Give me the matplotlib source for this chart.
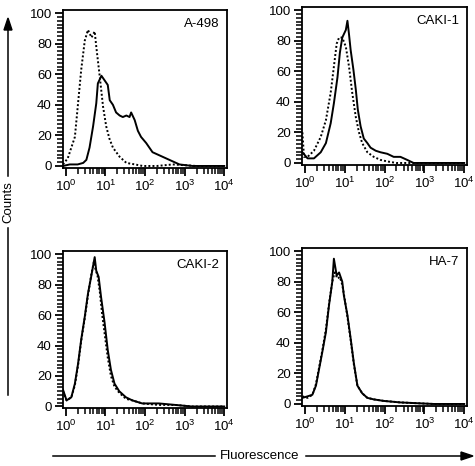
import matplotlib
matplotlib.use("Agg")
import matplotlib.pyplot as plt
import numpy as np
from matplotlib.ticker import FixedLocator, MultipleLocator, NullFormatter, FuncFormatter

plt.rcParams['font.family'] = ['Liberation Sans', 'DejaVu Sans']

# fluorescence given as log10 values, counts
a498_ctrl_x = [-0.07, 0.05, 0.14, 0.23, 0.31, 0.39, 0.48, 0.56, 0.65, 0.73, 0.77, 0.86, 0.94, 1.02,
               1.10, 1.19, 1.36, 1.53, 1.75, 1.94, 2.3, 2.7, 3.3, 4.0]
a498_ctrl_y = [1, 5, 12, 19, 41, 63, 82, 89, 84, 88, 78, 58, 39, 26, 18, 12, 6, 2, 1, 0, 0, 1, 0, 0]
a498_stain_x = [-0.07, 0.1, 0.3, 0.44, 0.52, 0.60, 0.69, 0.77, 0.81, 0.90, 0.98, 1.06, 1.11, 1.19,
                1.27, 1.36, 1.44, 1.53, 1.61, 1.65, 1.74, 1.82, 1.90, 2.03, 2.11, 2.19, 2.36, 2.53,
                2.70, 2.87, 3.2, 3.6, 4.0]
a498_stain_y = [0, 1, 1, 2, 4, 12, 26, 41, 54, 59, 56, 53, 43, 40, 35, 33, 32, 33, 32, 35, 30, 23,
                19, 15, 12, 9, 7, 5, 3, 1, 0, 0, 0]

caki1_ctrl_x = [-0.06, -0.02, 0.07, 0.23, 0.40, 0.53, 0.65, 0.73, 0.80, 0.86, 0.94, 1.03, 1.11, 1.19,
                1.28, 1.36, 1.44, 1.57, 1.73, 1.90, 2.07, 2.3, 2.8, 3.5, 4.0]
caki1_ctrl_y = [20, 4, 4, 8, 17, 28, 46, 63, 78, 82, 82, 76, 63, 46, 30, 20, 13, 7, 4, 2, 1, 0, 0, 0, 0]
caki1_stain_x = [-0.06, 0.07, 0.23, 0.40, 0.53, 0.65, 0.73, 0.82, 0.88, 0.94, 1.03, 1.07, 1.11, 1.15,
                 1.22, 1.28, 1.33, 1.40, 1.48, 1.57, 1.65, 1.78, 1.90, 2.07, 2.23, 2.40, 2.57, 2.73,
                 3.2, 4.0]
caki1_stain_y = [7, 3, 3, 7, 13, 26, 39, 56, 72, 82, 87, 93, 84, 74, 61, 48, 35, 24, 16, 13, 10, 8,
                 7, 6, 4, 4, 2, 0, 0, 0]

caki2_ctrl_x = [-0.07, 0.02, 0.14, 0.23, 0.31, 0.39, 0.48, 0.56, 0.64, 0.71, 0.75, 0.80, 0.86, 0.92,
                0.98, 1.06, 1.14, 1.23, 1.35, 1.52, 1.68, 1.93, 2.35, 2.77, 3.18, 4.0]
caki2_ctrl_y = [10, 4, 6, 14, 27, 43, 58, 73, 86, 95, 90, 86, 75, 60, 48, 32, 20, 13, 9, 5, 4, 2, 1, 1,
                0, 0]
caki2_stain_x = [-0.07, 0.02, 0.14, 0.23, 0.31, 0.39, 0.48, 0.56, 0.64, 0.73, 0.77, 0.83, 0.89, 0.98,
                 1.06, 1.14, 1.23, 1.35, 1.52, 1.68, 1.93, 2.35, 2.77, 3.18, 4.0]
caki2_stain_y = [11, 4, 6, 15, 28, 44, 59, 74, 85, 98, 89, 85, 72, 55, 37, 24, 15, 10, 6, 4, 2, 2, 1,
                 0, 0]

ha7_ctrl_x = [-0.06, 0.07, 0.19, 0.28, 0.36, 0.44, 0.53, 0.61, 0.69, 0.75, 0.82, 0.88, 0.94, 1.00,
              1.07, 1.15, 1.23, 1.32, 1.44, 1.57, 1.73, 1.98, 2.40, 3.23, 4.0]
ha7_ctrl_y = [5, 4, 6, 13, 24, 35, 49, 66, 80, 86, 82, 83, 78, 69, 57, 42, 26, 12, 7, 4, 3, 2, 1, 0, 0]
ha7_stain_x = [-0.06, 0.07, 0.19, 0.28, 0.36, 0.44, 0.53, 0.61, 0.69, 0.73, 0.80, 0.86, 0.94, 0.98,
               1.07, 1.15, 1.23, 1.32, 1.44, 1.57, 1.73, 1.98, 2.40, 3.23, 4.0]
ha7_stain_y = [4, 5, 6, 12, 23, 34, 47, 65, 80, 95, 84, 86, 80, 71, 58, 43, 27, 12, 7, 4, 3, 2, 1, 0, 0]

panels = [
    ("A-498", a498_ctrl_x, a498_ctrl_y, a498_stain_x, a498_stain_y, (63, 227, 10, 167.5)),
    ("CAKI-1", caki1_ctrl_x, caki1_ctrl_y, caki1_stain_x, caki1_stain_y, (302, 467, 7, 164.5)),
    ("CAKI-2", caki2_ctrl_x, caki2_ctrl_y, caki2_stain_x, caki2_stain_y, (63, 227, 251, 408)),
    ("HA-7", ha7_ctrl_x, ha7_ctrl_y, ha7_stain_x, ha7_stain_y, (302, 467, 248, 405.5)),
]

W, H = 475, 466
fig = plt.figure(figsize=(W / 100, H / 100), dpi=100)

decade_fmt = FuncFormatter(lambda v, p: r'$\mathregular{10^{%d}}$' % round(np.log10(v)))
xminor = [m * 10 ** d for d in range(4) for m in range(2, 10)]
yminor = np.arange(0, 101, 2.5)

for name, cx, cy, sx, sy, (l, r, t, b) in panels:
    ax = fig.add_axes([l / W, 1 - b / H, (r - l) / W, (b - t) / H])
    ax.set_xscale('log')
    ax.plot(10 ** np.array(cx), cy, color='black', linestyle=(0, (1, 1.1)), lw=1.4)
    ax.plot(10 ** np.array(sx), sy, color='black', linestyle='-', lw=1.4)
    ax.set_xlim(10 ** -0.07, 10 ** 4.07)
    ax.set_ylim(-1, 102)
    ax.set_xticks([1, 10, 100, 1000, 10000])
    ax.set_xticks(xminor, minor=True)
    ax.set_yticks(range(0, 101, 20))
    ax.set_yticks(yminor, minor=True)
    ax.xaxis.set_major_formatter(decade_fmt)
    ax.xaxis.set_minor_formatter(NullFormatter())
    ax.yaxis.set_minor_formatter(NullFormatter())
    ax.tick_params(which='major', direction='out', length=6, width=1.3, labelsize=9.5, pad=2)
    ax.tick_params(which='minor', direction='out', length=4, width=1.1)
    for sp in ax.spines.values():
        sp.set_linewidth(1.3)
    ax.text(0.955, 0.91, name, transform=ax.transAxes, ha='right', va='center', fontsize=9.5)

# Counts axis arrow
fx = 8 / W
fig.add_artist(plt.Line2D([fx, fx], [1 - 395 / H, 1 - 228 / H], color='black', lw=1.1))
fig.add_artist(plt.Line2D([fx, fx], [1 - 176 / H, 1 - 28 / H], color='black', lw=1.1))
fig.add_artist(plt.Polygon([[fx, 1 - 18 / H], [fx - 4 / W, 1 - 30 / H], [fx + 4 / W, 1 - 30 / H]],
                           closed=True, color='black'))
fig.text(fx, 1 - 202 / H, 'Counts', rotation=90, ha='center', va='center', fontsize=9.5)

# Fluorescence axis arrow
fy = 1 - 456 / H
fig.add_artist(plt.Line2D([53 / W, 215 / W], [fy, fy], color='black', lw=1.1))
fig.add_artist(plt.Line2D([306 / W, 462 / W], [fy, fy], color='black', lw=1.1))
fig.add_artist(plt.Polygon([[473 / W, fy], [461 / W, fy + 4 / H], [461 / W, fy - 4 / H]],
                           closed=True, color='black'))
fig.text(260 / W, fy, 'Fluorescence', ha='center', va='center', fontsize=9.5)

fig.savefig('out.png', dpi=100)
